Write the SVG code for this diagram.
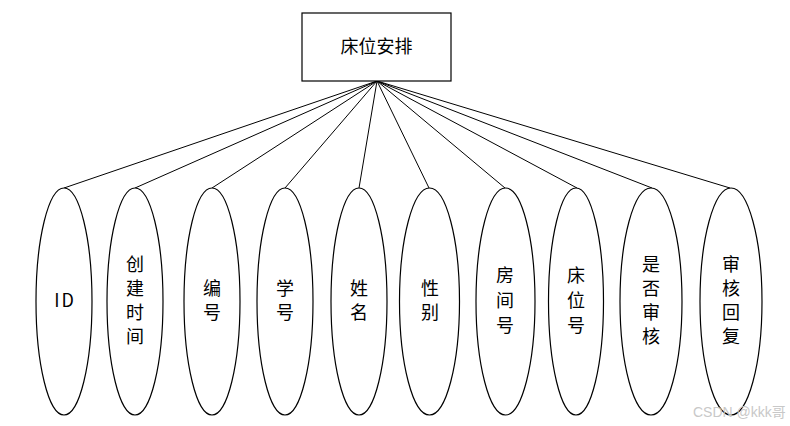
<svg xmlns="http://www.w3.org/2000/svg" width="790" height="426" viewBox="0 0 790 426">
<style>
.shape{fill:#fff;stroke:#000;stroke-width:1.2}
.edge{stroke:#000;stroke-width:1;fill:none}
.lbl{font-family:"Noto Sans CJK SC","Noto Sans",sans-serif;font-size:18px;fill:#000;text-anchor:middle}
.wm{font-family:"Liberation Sans","Noto Sans CJK SC",sans-serif;font-size:14px;fill:#c8c8c8}
</style>
<rect width="790" height="426" fill="#fff"/>
<g id="connectors">
<line class="edge" x1="377" y1="81" x2="64" y2="188"/>
<line class="edge" x1="377" y1="81" x2="135" y2="188"/>
<line class="edge" x1="377" y1="81" x2="212" y2="188"/>
<line class="edge" x1="377" y1="81" x2="285" y2="188"/>
<line class="edge" x1="377" y1="81" x2="359" y2="188"/>
<line class="edge" x1="377" y1="81" x2="429" y2="188"/>
<line class="edge" x1="377" y1="81" x2="505" y2="188"/>
<line class="edge" x1="377" y1="81" x2="577" y2="188"/>
<line class="edge" x1="377" y1="81" x2="652" y2="188"/>
<line class="edge" x1="377" y1="81" x2="730" y2="188"/>
</g>
<g id="root">
<rect class="shape" x="302" y="13" width="149" height="68"/>
<text class="lbl" x="376.5" y="53" font-size="19">床位安排</text>
</g>
<g id="attr-id">
<ellipse class="shape" cx="64" cy="301.5" rx="28" ry="113.5"/>
<text class="lbl" x="65" y="307" font-size="16" letter-spacing="2">ID</text>
</g>
<g id="attr-create-time">
<ellipse class="shape" cx="135" cy="301.5" rx="28" ry="113.5"/>
<text class="lbl" x="135" y="271">创</text>
<text class="lbl" x="135" y="295">建</text>
<text class="lbl" x="135" y="319">时</text>
<text class="lbl" x="135" y="343">间</text>
</g>
<g id="attr-number">
<ellipse class="shape" cx="212" cy="301.5" rx="28" ry="113.5"/>
<text class="lbl" x="212" y="295">编</text>
<text class="lbl" x="212" y="319">号</text>
</g>
<g id="attr-student-no">
<ellipse class="shape" cx="285" cy="301.5" rx="28" ry="113.5"/>
<text class="lbl" x="285" y="295">学</text>
<text class="lbl" x="285" y="319">号</text>
</g>
<g id="attr-name">
<ellipse class="shape" cx="359" cy="301.5" rx="28" ry="113.5"/>
<text class="lbl" x="359" y="295">姓</text>
<text class="lbl" x="359" y="319">名</text>
</g>
<g id="attr-gender">
<ellipse class="shape" cx="429.5" cy="301.5" rx="30" ry="113.5"/>
<text class="lbl" x="430" y="295">性</text>
<text class="lbl" x="430" y="319">别</text>
</g>
<g id="attr-room">
<ellipse class="shape" cx="505.5" cy="301.5" rx="29.5" ry="113.5"/>
<text class="lbl" x="505" y="282">房</text>
<text class="lbl" x="505" y="307">间</text>
<text class="lbl" x="505" y="332">号</text>
</g>
<g id="attr-bed">
<ellipse class="shape" cx="576" cy="301.5" rx="27.5" ry="113.5"/>
<text class="lbl" x="576" y="282">床</text>
<text class="lbl" x="576" y="307">位</text>
<text class="lbl" x="576" y="332">号</text>
</g>
<g id="attr-audited">
<ellipse class="shape" cx="651" cy="301.5" rx="31" ry="113.5"/>
<text class="lbl" x="651" y="271">是</text>
<text class="lbl" x="651" y="295">否</text>
<text class="lbl" x="651" y="319">审</text>
<text class="lbl" x="651" y="343">核</text>
</g>
<g id="attr-reply">
<ellipse class="shape" cx="731" cy="301.5" rx="31" ry="113.5"/>
<text class="lbl" x="731" y="271">审</text>
<text class="lbl" x="731" y="295">核</text>
<text class="lbl" x="731" y="319">回</text>
<text class="lbl" x="731" y="343">复</text>
</g>
<text class="wm" x="693" y="417">CSDN @kkk哥</text>
</svg>
